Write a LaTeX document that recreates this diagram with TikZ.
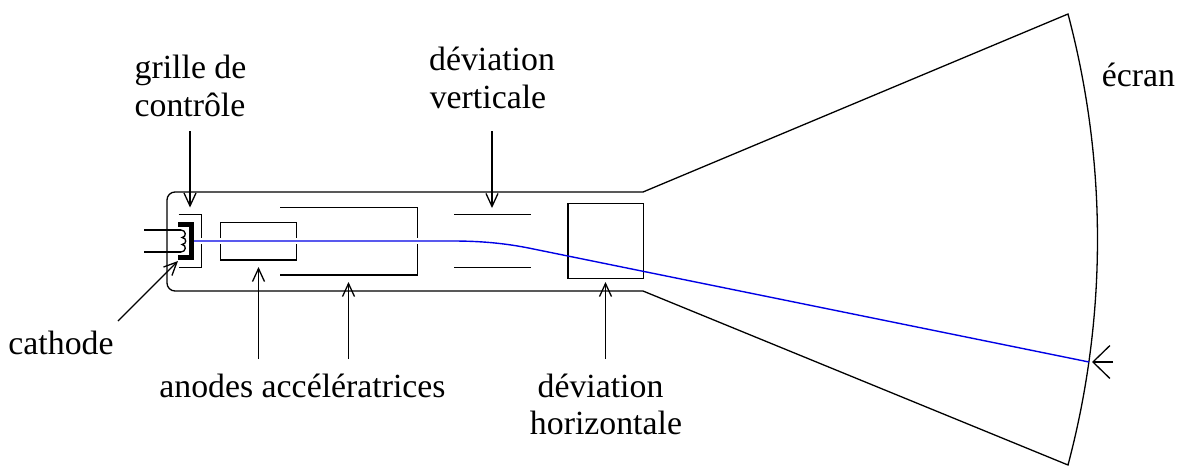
\documentclass[tikz,border=0pt]{standalone}
\usepackage{fontspec}
\setmainfont{Liberation Serif}
\usetikzlibrary{arrows.meta}
\tikzset{
  ln/.style={draw=black,line width=1.3pt,line join=miter},
  beam/.style={draw=blue!90!black,line width=1.4pt},
  lab/.style={inner sep=0pt,font=\fontsize{33.8}{40}\selectfont,align=center,anchor=base},
  arr/.style={ln,-{Straight Barb[length=13pt,width=12pt,line width=1.3pt]}},
  bigarr/.style={ln,-{Straight Barb[length=17pt,width=33pt,line width=1.3pt]}}
}
\begin{document}
\begin{tikzpicture}[x=1pt,y=-1pt]
\useasboundingbox (0,0) rectangle (1181,466);
% tube
\coordinate (tl) at (643,192);
\coordinate (bl) at (643,291);
\coordinate (st) at (1068,14);
\coordinate (sb) at (1068,465);
\draw[ln,rounded corners=8pt] (tl) -- (167,192) -- (167,291) -- (bl);
\draw[ln] (tl) -- (st) .. controls (1107.3,162.1) and (1107.3,316.9) .. (sb) -- (bl);
% grid
\draw[ln] (178.5,214.5) -- (201.5,214.5) -- (201.5,238);
\draw[ln] (201.5,244) -- (201.5,267.5) -- (178.5,267.5);
% cathode
\draw[draw=black,line width=5pt] (178,224.5) -- (191.8,224.5) -- (191.8,257.8) -- (178,257.8);
% heater
\coordinate (h1) at (181,230);
\coordinate (h2) at (181,252);
\draw[ln] (144,230) -- (h1);
\draw[ln] (144,252) -- (h2);
\draw[ln] (h1) .. controls (186,230) and (187,237) .. (182,237.5)
  .. controls (187,238) and (187,244) .. (182,244.5)
  .. controls (187,245) and (186,252) .. (h2);
% anode 1
\draw[ln] (220.5,238) -- (220.5,222.5) -- (296.5,222.5) -- (296.5,238);
\draw[ln] (220.5,244) -- (220.5,260) -- (296.5,260) -- (296.5,244);
% anode 2
\draw[ln] (280,207.5) -- (417.5,207.5) -- (417.5,238);
\draw[ln] (280,275) -- (417.5,275) -- (417.5,244);
% plates
\draw[ln] (454,214.5) -- (531,214.5);
\draw[ln] (454,267.5) -- (531,267.5);
\draw[ln] (568,278.5) -- (568,203.5) -- (643.5,203.5) -- (643.5,278.5) -- cycle;
% beam
\coordinate (b0) at (194,241);
\coordinate (b1) at (453,241);
\coordinate (b2) at (530,248.3);
\coordinate (b3) at (1089,362);
\draw[beam] (b0) -- (b1) .. controls (480,241) and (505,243.2) .. (b2) -- (b3);
% labels
\node[lab] (grille) at (190.5,78.5) {grille de};
\node[lab] (controle) at (190,116.5) {contrôle};
\node[lab] (dv1) at (492,70.5) {déviation};
\node[lab] (dv2) at (488,108) {verticale};
\node[lab] (ecran) at (1138.5,86) {écran};
\node[lab] (cath) at (61,354) {cathode};
\node[lab] (anodes) at (302.5,397) {anodes accélératrices};
\node[lab] (dh1) at (600.5,397) {déviation};
\node[lab] (dh2) at (606,434) {horizontale};
% arrows
\coordinate (a1s) at (190,131); \coordinate (a1e) at (190,207.5);
\coordinate (a2s) at (492,131); \coordinate (a2e) at (492,208);
\coordinate (a3s) at (118,321); \coordinate (a3e) at (178,261);
\coordinate (a4s) at (258.5,359); \coordinate (a4e) at (258.5,267);
\coordinate (a5s) at (348.5,359); \coordinate (a5e) at (348.5,282);
\coordinate (a6s) at (605.5,359); \coordinate (a6e) at (605.5,282);
\coordinate (a7s) at (1113,362); \coordinate (a7e) at (1092,362);
\draw[arr] (a1s) -- (a1e);
\draw[arr] (a2s) -- (a2e);
\draw[arr] (a3s) -- (a3e);
\draw[arr] (a4s) -- (a4e);
\draw[arr] (a5s) -- (a5e);
\draw[arr] (a6s) -- (a6e);
\draw[bigarr] (a7s) -- (a7e);
\end{tikzpicture}
\end{document}
